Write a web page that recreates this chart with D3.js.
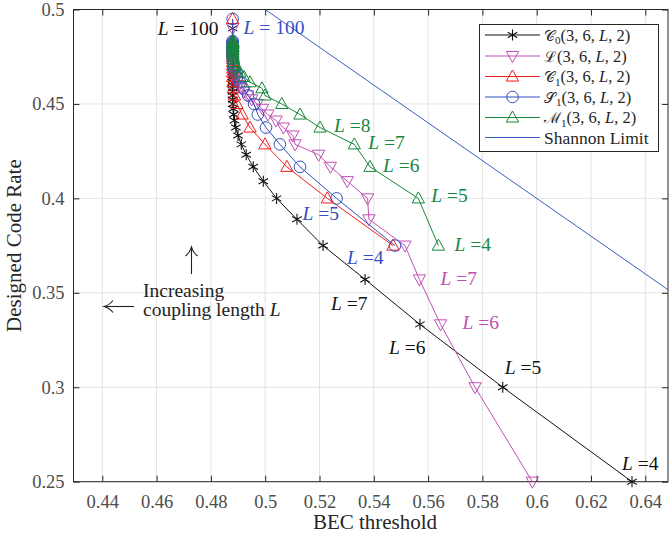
<!DOCTYPE html>
<html><head><meta charset="utf-8">
<script src="https://cdn.jsdelivr.net/npm/d3@7/dist/d3.min.js"></script>
<style>
html,body{margin:0;padding:0;background:#fff;}
svg{display:block;}
</style></head>
<body>
<svg id="c" width="669" height="535"></svg>
<script>
// ---- data ----
const couplingL = [4,5,6,7,8,9,10,11,12,13,14,15,16,17,18,19,20,21,22,23,24,25,26,27,28,29,30,100];
// design rates
const rateC0 = [0.25,0.3,0.3333,0.3571,0.375,0.3889,0.4,0.4091,0.4167,0.4231,0.4286,0.4333,0.4375,0.4412,0.4444,0.4474,0.45,0.4524,0.4545,0.4565,0.4583,0.46,0.4615,0.463,0.4643,0.4655,0.4667,0.49];
const rateC1 = [0.375,0.4,0.4167,0.4286,0.4375,0.4444,0.45,0.4545,0.4583,0.4615,0.4643,0.4667,0.4688,0.4706,0.4722,0.4737,0.475,0.4762,0.4773,0.4783,0.4792,0.48,0.4808,0.4815,0.4821,0.4828,0.4833,0.495];
// BEC thresholds
const thrC0 = [0.6351,0.5875,0.5570,0.5368,0.5213,0.5117,0.5042,0.4993,0.4956,0.4930,0.4912,0.4900,0.4892,0.4887,0.4884,0.4882,0.4881,0.4880,0.4880,0.4880,0.4880,0.4880,0.4880,0.4880,0.4880,0.4880,0.4880,0.4880];
const thrL  = [0.5984,0.5773,0.5646,0.5568,0.5515,0.5382,0.5377,0.5302,0.5240,0.5197,0.5110,0.5102,0.5067,0.5040,0.5010,0.4990,0.4970,0.4950,0.4935,0.4922,0.4912,0.4903,0.4897,0.4892,0.4888,0.4885,0.4883,0.4880];
const thrC1 = [0.5471,0.5229,0.5080,0.4999,0.4944,0.4915,0.4896,0.4887,0.4883,0.4881,0.4880,0.4880,0.4880,0.4880,0.4880,0.4880,0.4880,0.4880,0.4880,0.4880,0.4880,0.4880,0.4880,0.4880,0.4880,0.4880,0.4880,0.4880];
const thrS1 = [0.5478,0.5263,0.5128,0.5054,0.5003,0.4973,0.4959,0.4937,0.4918,0.4907,0.4896,0.4889,0.4885,0.4883,0.4882,0.4881,0.4880,0.4880,0.4880,0.4880,0.4880,0.4880,0.4880,0.4880,0.4880,0.4880,0.4880,0.4880];
const thrM1 = [0.5638,0.5564,0.5386,0.5328,0.5202,0.5128,0.5061,0.4999,0.4988,0.4944,0.4922,0.4907,0.4896,0.4889,0.4885,0.4883,0.4882,0.4881,0.4881,0.4881,0.4881,0.4881,0.4881,0.4881,0.4881,0.4881,0.4881];
const shannonX = [0.5, 0.66];
const shannonY = [0.5, 0.34];
const xTicks = [0.44,0.46,0.48,0.5,0.52,0.54,0.56,0.58,0.6,0.62,0.64];
const yTicks = [0.25,0.3,0.35,0.4,0.45,0.5];

const FONT = "'Liberation Serif','DejaVu Serif',serif";
const svg = d3.select('#c');
const L = 73.5, R = 668, T = 9.5, B = 481.7;
const x = d3.scaleLinear().domain([0.44,0.64]).range([102.3,645.3]);
const y = d3.scaleLinear().domain([0.25,0.5]).range([B,T]);

svg.append('defs').append('clipPath').attr('id','clip')
  .append('rect').attr('x',L).attr('y',T).attr('width',R-L).attr('height',B-T);

// grid
const g = svg.append('g');
g.selectAll('.gx').data(xTicks).join('line')
  .attr('x1',d=>x(d)).attr('x2',d=>x(d)).attr('y1',T).attr('y2',B)
  .attr('stroke','#e3e3e3').attr('stroke-width',1);
g.selectAll('.gy').data(yTicks).join('line')
  .attr('x1',L).attr('x2',R).attr('y1',d=>y(d)).attr('y2',d=>y(d))
  .attr('stroke','#e3e3e3').attr('stroke-width',1);

// axes (inner ticks, MATLAB style)
const axB = d3.axisBottom(x).tickValues(xTicks).tickSize(-6).tickPadding(13).tickFormat(d3.format('~g'));
const axT = d3.axisTop(x).tickValues(xTicks).tickSize(-6).tickFormat('');
const axLf = d3.axisLeft(y).tickValues(yTicks).tickSize(-6).tickPadding(9).tickFormat(d3.format('~g'));
const axRt = d3.axisRight(y).tickValues(yTicks).tickSize(-6).tickFormat('');
function style(sel){
  sel.select('.domain').remove();
  sel.selectAll('line').attr('stroke','#262626');
  sel.selectAll('text').attr('fill','#4d4d4d').style('font-family',FONT).style('font-size','18.5px');
}
svg.append('g').attr('transform',`translate(0,${B})`).call(axB).call(style);
svg.append('g').attr('transform',`translate(0,${T})`).call(axT).call(style);
svg.append('g').attr('transform',`translate(${L},0)`).call(axLf).call(style);
svg.append('g').attr('transform',`translate(${R},0)`).call(axRt).call(style);
svg.append('rect').attr('x',L).attr('y',T).attr('width',R-L).attr('height',B-T)
  .attr('fill','none').attr('stroke','#262626').attr('stroke-width',1);

// axis titles
svg.append('text').attr('x',375).attr('y',529).attr('text-anchor','middle')
  .attr('fill','#262626').style('font-family',FONT).style('font-size','21px').text('BEC threshold');
svg.append('text').attr('transform',`translate(21,${(T+B)/2}) rotate(-90)`).attr('text-anchor','middle')
  .attr('fill','#262626').style('font-family',FONT).style('font-size','21px').text('Designed Code Rate');

// Shannon limit
const line = d3.line().x(d=>x(d[0])).y(d=>y(d[1]));
svg.append('path').attr('clip-path','url(#clip)')
  .datum(shannonX.map((v,i)=>[v,shannonY[i]]))
  .attr('d',line).attr('fill','none').attr('stroke','#3a5cc4').attr('stroke-width',1);

// series
const series = [
  {name:'C0', thr:thrC0, rate:rateC0, color:'#111111', marker:'ast'},
  {name:'L',  thr:thrL,  rate:rateC0, color:'#c24fb5', marker:'tdown'},
  {name:'C1', thr:thrC1, rate:rateC1, color:'#f21d1d', marker:'tup'},
  {name:'S1', thr:thrS1, rate:rateC1, color:'#3550c0', marker:'circ'},
  {name:'M1', thr:thrM1, rate:rateC1, color:'#17873a', marker:'tup'}
];
function drawMarker(sel, type, color){
  if(type==='ast'){
    const r=5.5;
    const p = `M0,${-r}L0,${r}M${-r*0.866},${-r*0.5}L${r*0.866},${r*0.5}M${-r*0.866},${r*0.5}L${r*0.866},${-r*0.5}`;
    sel.append('path').attr('d',p).attr('stroke',color).attr('stroke-width',1.1).attr('fill','none');
  } else if(type==='tup'){
    const s=6.5;
    sel.append('path').attr('d',`M0,${-s}L${s*0.95},${s*0.7}L${-s*0.95},${s*0.7}Z`).attr('stroke',color).attr('stroke-width',1).attr('fill','none');
  } else if(type==='tdown'){
    const s=6.5;
    sel.append('path').attr('d',`M0,${s}L${s*0.95},${-s*0.7}L${-s*0.95},${-s*0.7}Z`).attr('stroke',color).attr('stroke-width',1).attr('fill','none');
  } else {
    sel.append('circle').attr('r',5.8).attr('stroke',color).attr('stroke-width',1).attr('fill','none');
  }
}
series.forEach(s=>{
  const pts = s.thr.map((v,i)=>[v,s.rate[i]]);
  svg.append('path').datum(pts).attr('d',line).attr('fill','none').attr('stroke',s.color).attr('stroke-width',1);
  const mg = svg.append('g');
  pts.forEach(p=>{
    const m = mg.append('g').attr('transform',`translate(${x(p[0])},${y(p[1])})`);
    drawMarker(m, s.marker, s.color);
  });
});

// point labels: [series, L, dx, dy, text, anchor]
const labels = [
  ['C0',4,-10,-12,' =4','start'],
  ['C0',5,2,-13,' =5','start'],
  ['C0',6,-31,30,' =6','start'],
  ['C0',7,-34,31,' =7','start'],
  ['C0',100,-14,7,' = 100','end'],
  ['S1',100,11,15,' = 100','start'],
  ['S1',5,-34,22,' =5','start'],
  ['S1',4,-48,18,' =4','start'],
  ['M1',4,16,5,' =4','start'],
  ['M1',5,13,4,' =5','start'],
  ['M1',6,13,5,' =6','start'],
  ['M1',7,14,5,' =7','start'],
  ['M1',8,14,4,' =8','start'],
  ['L',7,21,6,' =7','start'],
  ['L',6,22,5,' =6','start']
];
labels.forEach(([sn,l,dx,dy,txt,anc])=>{
  const s = series.find(q=>q.name===sn);
  const i = couplingL.indexOf(l);
  const t = svg.append('text').attr('x',x(s.thr[i])+dx).attr('y',y(s.rate[i])+dy)
    .attr('text-anchor',anc)
    .attr('fill',s.color).style('font-family',FONT).style('font-size','19.5px');
  t.append('tspan').style('font-style','italic').text('L');
  t.append('tspan').text(txt);
});

// annotations: arrows and text
const ann = svg.append('g').attr('stroke','#222').attr('fill','none').attr('stroke-width',1.1);
// up arrow
ann.append('path').attr('d','M191.5,274 L191.5,248');
ann.append('path').attr('d','M185.5,256 Q190,252.5 191.5,247 Q193,252.5 197.5,256');
// left arrow
ann.append('path').attr('d','M105,306.5 L134,306.5');
ann.append('path').attr('d','M113,300.5 Q109.5,305 104,306.5 Q109.5,308 113,312.5');
const at = svg.append('text').attr('fill','#222').style('font-family',FONT).style('font-size','19.5px');
at.append('tspan').attr('x',143).attr('y',297).text('Increasing');
const t2 = svg.append('text').attr('fill','#222').style('font-family',FONT).style('font-size','19.5px').attr('x',143).attr('y',316);
t2.append('tspan').text('coupling length ');
t2.append('tspan').style('font-style','italic').text('L');

// legend
const lg = svg.append('g');
lg.append('rect').attr('x',479.5).attr('y',24.5).attr('width',179).attr('height',127)
  .attr('fill','#fff').attr('stroke','#262626').attr('stroke-width',1);
const legItems = [
  {s:series[0], letter:'𝒞', sub:'0'},
  {s:series[1], letter:'ℒ', sub:''},
  {s:series[2], letter:'𝒞', sub:'1'},
  {s:series[3], letter:'𝒮', sub:'1'},
  {s:series[4], letter:'ℳ', sub:'1'},
  {s:{color:'#3a5cc4', marker:null}, text:'Shannon Limit'}
];
const rowY = [35,56,76.5,97,117.5,137.5];
legItems.forEach((it,i)=>{
  const yy = rowY[i];
  lg.append('line').attr('x1',485).attr('x2',540).attr('y1',yy).attr('y2',yy)
    .attr('stroke',it.s.color).attr('stroke-width',1.2);
  if(it.s.marker){
    const m = lg.append('g').attr('transform',`translate(512.5,${yy})`);
    drawMarker(m, it.s.marker, it.s.color);
  }
  const t = lg.append('text').attr('x',544).attr('y',yy+5.5).attr('fill','#262626')
    .style('font-family',FONT).style('font-size','16.5px');
  if(it.text){ t.style('font-size','17.5px').attr('y',yy+6).text(it.text); }
  else{
    t.append('tspan').style('font-size','15px').text(it.letter);
    if(it.sub) t.append('tspan').attr('dy',3.5).style('font-size','11px').text(it.sub);
    t.append('tspan').attr('dy',it.sub?-3.5:0).text('(3, 6, ');
    t.append('tspan').style('font-style','italic').text('L');
    t.append('tspan').text(', 2)');
  }
});
</script>
</body></html>
